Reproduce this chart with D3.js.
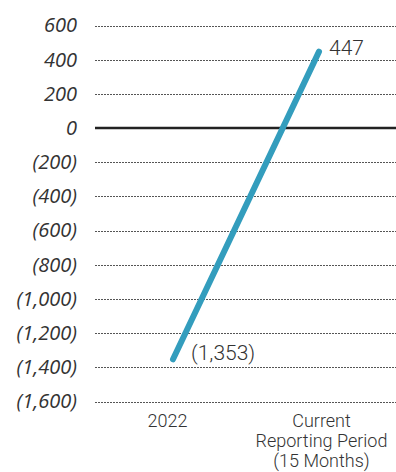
<!DOCTYPE html>
<html>
<head>
<meta charset="utf-8">
<script src="https://cdn.jsdelivr.net/npm/d3@7"></script>
<style>
  body { margin: 0; background: #fff; }
  svg { display: block; font-family: Roboto, sans-serif; }
</style>
</head>
<body>
<div id="chart"></div>
<script>
// --- data
const periods = ["2022", "Current Reporting Period (15 Months)"];
const periodLines = [["2022"], ["Current", "Reporting Period", "(15 Months)"]];
const values = [-1353, 447];
const valueLabels = ["(1,353)", "447"];
const yTicks = [600, 400, 200, 0, -200, -400, -600, -800, -1000, -1200, -1400, -1600];

const W = 396, H = 472;
const margin = { top: 25, right: 0, bottom: 70, left: 95 };

const svg = d3.select("#chart").append("svg")
  .attr("width", W)
  .attr("height", H);

const y = d3.scaleLinear()
  .domain([-1600, 600])
  .range([401.5, 25.5]);

// axis labels sit at band centres, line points a little off them
const x = d3.scalePoint().domain(periods).range([167, 321]);
const xLine = d3.scalePoint().domain(periods).range([173, 319]);

const fmt = v => v < 0 ? "(" + d3.format(",")(-v) + ")" : d3.format(",")(v);

// gridlines
svg.append("g")
  .selectAll("line")
  .data(yTicks.filter(d => d !== 0))
  .join("line")
  .attr("x1", margin.left)
  .attr("x2", W)
  .attr("y1", d => Math.round(y(d)) + 0.5)
  .attr("y2", d => Math.round(y(d)) + 0.5)
  .attr("stroke", "#555")
  .attr("stroke-width", 1)
  .attr("stroke-dasharray", "2,1");

// zero line
svg.append("line")
  .attr("x1", margin.left)
  .attr("x2", W)
  .attr("y1", y(0))
  .attr("y2", y(0))
  .attr("stroke", "#222")
  .attr("stroke-width", 2.5);

// y axis labels
const yAxis = svg.append("g")
  .attr("transform", "translate(77,0)")
  .call(d3.axisLeft(y).tickValues(yTicks).tickFormat(fmt).tickSize(0).tickPadding(0));
yAxis.select(".domain").remove();
yAxis.selectAll("text")
  .attr("font-family", "Open Sans, sans-serif")
  .attr("font-style", "italic")
  .attr("font-size", "20px")
  .attr("fill", "#333");

// x axis labels
const xAxis = svg.append("g")
  .attr("transform", "translate(0,410)")
  .call(d3.axisBottom(x).tickSize(0).tickPadding(0).tickFormat(() => ""));
xAxis.select(".domain").remove();
xAxis.selectAll(".tick text").each(function(d, i) {
  const t = d3.select(this)
    .attr("font-family", "Roboto, sans-serif")
    .attr("font-weight", 300)
    .attr("font-size", "18px")
    .attr("fill", "#333")
    .attr("dy", null)
    .attr("y", 0);
  periodLines[i].forEach((s, j) => {
    t.append("tspan")
      .attr("x", 0)
      .attr("y", 17 + j * 20)
      .text(s);
  });
});

// line
const line = d3.line()
  .x((d, i) => xLine(periods[i]))
  .y(d => y(d));

svg.append("path")
  .datum(values)
  .attr("d", line)
  .attr("fill", "none")
  .attr("stroke", "#339dbd")
  .attr("stroke-width", 6)
  .attr("stroke-linecap", "round");

// value labels
svg.append("g")
  .selectAll("text")
  .data(values)
  .join("text")
  .attr("x", (d, i) => xLine(periods[i]) + (i === 0 ? 18 : 10))
  .attr("y", (d, i) => y(d) + (i === 0 ? 1 : 3))
  .attr("font-family", "Roboto, sans-serif")
  .attr("font-weight", 300)
  .attr("font-size", "21px")
  .attr("fill", "#333")
  .text((d, i) => valueLabels[i]);
</script>
</body>
</html>
